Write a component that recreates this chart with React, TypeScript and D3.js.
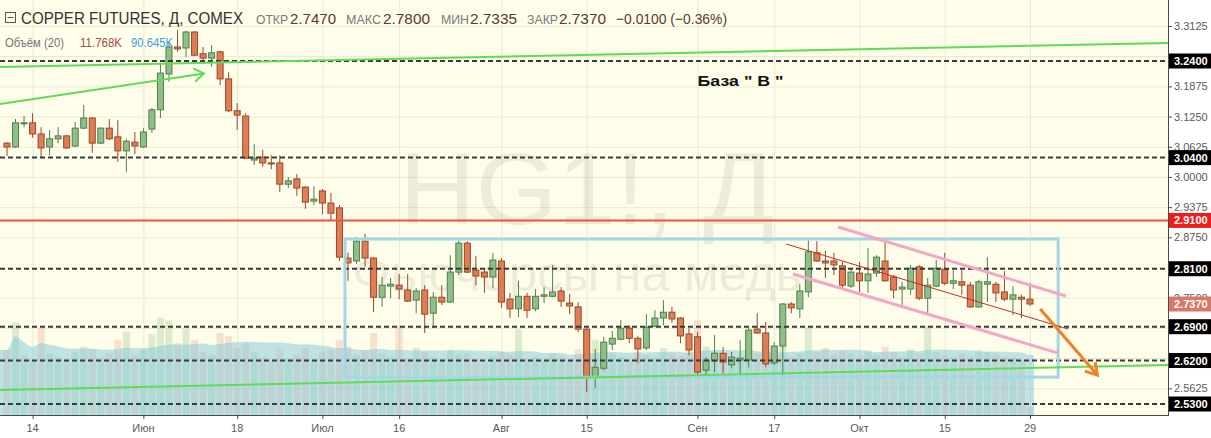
import React from "react";
import * as d3 from "d3";

const W = 1211;
const H = 438;
const PLOT_R = 1168;
const PLOT_B = 415;

// [open, high, low, close]
const candles: [number, number, number, number][] = [
  [3.070, 3.072, 3.043, 3.062], [3.062, 3.120, 3.060, 3.112], [3.110, 3.126, 3.103, 3.112], [3.112, 3.132, 3.081, 3.089],
  [3.089, 3.103, 3.041, 3.060], [3.062, 3.097, 3.045, 3.079], [3.079, 3.103, 3.070, 3.085], [3.085, 3.087, 3.058, 3.060],
  [3.064, 3.114, 3.062, 3.101], [3.101, 3.149, 3.099, 3.122], [3.122, 3.124, 3.050, 3.070], [3.070, 3.103, 3.068, 3.101],
  [3.101, 3.120, 3.076, 3.079], [3.083, 3.118, 3.031, 3.054], [3.054, 3.079, 3.010, 3.074], [3.072, 3.093, 3.047, 3.064],
  [3.062, 3.101, 3.060, 3.093], [3.099, 3.143, 3.091, 3.139], [3.139, 3.236, 3.122, 3.215], [3.213, 3.281, 3.197, 3.269],
  [3.269, 3.304, 3.259, 3.265], [3.267, 3.303, 3.248, 3.300], [3.300, 3.302, 3.250, 3.252], [3.255, 3.269, 3.240, 3.246],
  [3.246, 3.273, 3.228, 3.257], [3.259, 3.261, 3.190, 3.203], [3.203, 3.217, 3.134, 3.137], [3.137, 3.153, 3.097, 3.128],
  [3.126, 3.132, 3.037, 3.039], [3.035, 3.068, 3.025, 3.039], [3.041, 3.056, 3.021, 3.029], [3.029, 3.045, 3.016, 3.027],
  [3.029, 3.045, 2.969, 2.985], [2.985, 3.000, 2.977, 2.992], [2.996, 3.006, 2.961, 2.977], [2.979, 2.981, 2.934, 2.948],
  [2.950, 2.981, 2.942, 2.954], [2.971, 2.975, 2.923, 2.946], [2.946, 2.967, 2.911, 2.925], [2.936, 2.942, 2.826, 2.834],
  [2.832, 2.843, 2.785, 2.822], [2.826, 2.876, 2.820, 2.867], [2.867, 2.882, 2.814, 2.832], [2.832, 2.834, 2.720, 2.751],
  [2.751, 2.793, 2.731, 2.776], [2.774, 2.791, 2.749, 2.778], [2.776, 2.799, 2.747, 2.768], [2.766, 2.799, 2.741, 2.743],
  [2.745, 2.770, 2.718, 2.764], [2.766, 2.776, 2.677, 2.716], [2.718, 2.762, 2.687, 2.751], [2.751, 2.776, 2.735, 2.741],
  [2.741, 2.838, 2.739, 2.803], [2.803, 2.869, 2.797, 2.863], [2.863, 2.867, 2.801, 2.803], [2.807, 2.836, 2.776, 2.795],
  [2.803, 2.811, 2.760, 2.793], [2.793, 2.843, 2.770, 2.828], [2.826, 2.832, 2.729, 2.741], [2.747, 2.760, 2.708, 2.727],
  [2.727, 2.785, 2.710, 2.753], [2.753, 2.760, 2.708, 2.724], [2.727, 2.768, 2.722, 2.753], [2.753, 2.772, 2.739, 2.756],
  [2.753, 2.818, 2.751, 2.762], [2.764, 2.772, 2.731, 2.743], [2.739, 2.758, 2.716, 2.733], [2.731, 2.741, 2.679, 2.685],
  [2.685, 2.687, 2.555, 2.588], [2.586, 2.644, 2.563, 2.606], [2.604, 2.669, 2.600, 2.658], [2.654, 2.681, 2.642, 2.666],
  [2.664, 2.704, 2.662, 2.687], [2.687, 2.693, 2.656, 2.666], [2.666, 2.671, 2.615, 2.644], [2.646, 2.716, 2.642, 2.689],
  [2.691, 2.724, 2.689, 2.708], [2.708, 2.745, 2.693, 2.720], [2.720, 2.731, 2.698, 2.706], [2.708, 2.710, 2.656, 2.671],
  [2.675, 2.687, 2.631, 2.642], [2.669, 2.679, 2.586, 2.596], [2.600, 2.627, 2.592, 2.621], [2.619, 2.673, 2.596, 2.635],
  [2.635, 2.648, 2.594, 2.617], [2.611, 2.638, 2.604, 2.627], [2.621, 2.662, 2.590, 2.625], [2.621, 2.687, 2.606, 2.683],
  [2.685, 2.718, 2.675, 2.677], [2.677, 2.700, 2.606, 2.613], [2.615, 2.658, 2.611, 2.650], [2.650, 2.739, 2.590, 2.737],
  [2.737, 2.741, 2.718, 2.729], [2.727, 2.778, 2.708, 2.764], [2.762, 2.869, 2.751, 2.845], [2.843, 2.867, 2.824, 2.826],
  [2.826, 2.847, 2.791, 2.822], [2.826, 2.843, 2.797, 2.818], [2.816, 2.824, 2.770, 2.776], [2.774, 2.811, 2.770, 2.803],
  [2.801, 2.824, 2.762, 2.785], [2.785, 2.853, 2.760, 2.799], [2.801, 2.838, 2.793, 2.834], [2.826, 2.865, 2.783, 2.785],
  [2.793, 2.797, 2.749, 2.766], [2.768, 2.783, 2.735, 2.772], [2.768, 2.818, 2.756, 2.811], [2.814, 2.818, 2.745, 2.749],
  [2.749, 2.791, 2.718, 2.776], [2.774, 2.828, 2.772, 2.811], [2.809, 2.843, 2.776, 2.780], [2.780, 2.807, 2.768, 2.785],
  [2.783, 2.807, 2.756, 2.776], [2.776, 2.783, 2.729, 2.731], [2.731, 2.787, 2.729, 2.783], [2.778, 2.834, 2.741, 2.783],
  [2.778, 2.783, 2.741, 2.760], [2.762, 2.805, 2.743, 2.747], [2.747, 2.774, 2.714, 2.756], [2.751, 2.756, 2.708, 2.747],
  [2.747, 2.780, 2.7335, 2.737],
];

// volume, thousands of contracts
const volumes: number[] = [
  95, 135, 88, 80, 128, 90, 85, 78, 92, 100,
  96, 84, 90, 110, 122, 88, 95, 118, 142, 138,
  105, 126, 110, 92, 88, 120, 115, 98, 105, 92,
  85, 78, 96, 82, 88, 98, 80, 92, 96, 110,
  100, 88, 95, 120, 90, 85, 130, 82, 98, 92,
  85, 80, 95, 88, 90, 82, 78, 86, 92, 88,
  125, 82, 85, 78, 90, 86, 80, 96, 118, 110,
  102, 90, 85, 80, 92, 88, 84, 98, 90, 86,
  94, 138, 100, 92, 88, 84, 80, 96, 90, 88,
  86, 105, 85, 90, 128, 92, 98, 88, 94, 90,
  86, 95, 88, 100, 92, 85, 96, 90, 130, 92,
  88, 85, 90, 86, 95, 92, 88, 85, 84, 80,
  11.768,
];

const dateTicks = [
  { i: 3, label: "14" }, { i: 16, label: "Июн" }, { i: 27, label: "18" }, { i: 37, label: "Июл" },
  { i: 46, label: "16" }, { i: 58, label: "Авг" }, { i: 68, label: "15" }, { i: 81, label: "Сен" },
  { i: 90, label: "17" }, { i: 100, label: "Окт" }, { i: 110, label: "15" }, { i: 120, label: "29" },
];

const priceTicks = [2.5625, 2.625, 2.6875, 2.75, 2.8125, 2.875, 2.9375, 3.0, 3.0625, 3.125, 3.1875, 3.25, 3.3125];
const dashedLevels = [3.24, 3.04, 2.81, 2.69, 2.62, 2.53];
const redLevel = 2.91;
const lastPrice = 2.737;

// drawings as [barIndex, price]
const greenTopLine: [number, number][] = [[-0.82, 3.2276], [136.2, 3.2773]];
const greenArrow: [number, number][] = [[-0.82, 3.151], [23.1, 3.2141]];
const greenBottomLine: [number, number][] = [[-0.82, 2.5589], [136.2, 2.6107]];
const blueBox = { i0: 39.65, i1: 123.3, p0: 2.8715, p1: 2.5857 };
const pinkTop: [number, number][] = [[97.5, 2.8963], [124.2, 2.7535]];
const pinkBottom: [number, number][] = [[92.2, 2.799], [123.3, 2.6354]];
const redTrend: [number, number][] = [[91.4, 2.8611], [124.5, 2.6851]];
const orangeArrow: [number, number][] = [[121.2, 2.7265], [127.9, 2.5899]];
const noteLabel = { i: 81, p: 3.188, text: "База  \" В \"" };

const FONT = "'Liberation Sans', Arial, sans-serif";

function arrowHead(x1: number, y1: number, x2: number, y2: number, len: number, ang: number) {
  const a = Math.atan2(y2 - y1, x2 - x1);
  const p1 = [x2 - len * Math.cos(a - ang), y2 - len * Math.sin(a - ang)];
  const p2 = [x2 - len * Math.cos(a + ang), y2 - len * Math.sin(a + ang)];
  return `M${p1[0]},${p1[1]}L${x2},${y2}L${p2[0]},${p2[1]}`;
}

export default function App() {
  const x = d3.scaleLinear().domain([0, 120]).range([7, 1030]);
  const y = d3.scaleLinear().domain([2.53, 3.24]).range([404, 61]);
  const vy = d3.scaleLinear().domain([0, 100]).range([PLOT_B, PLOT_B - 68.4]);

  const ma = volumes.map((_, i) => {
    const s = volumes.slice(Math.max(0, i - 19), i + 1);
    return d3.mean(s) as number;
  });
  const maPts: [number, number][] = ma.map((v, i) => [x(i), vy(v)]);
  maPts.unshift([0, vy(ma[0])]);
  maPts.push([x(120) + 4, vy(ma[120])]);
  const areaGen = d3.area<[number, number]>().x((d) => d[0]).y0(PLOT_B).y1((d) => d[1]).curve(d3.curveMonotoneX);

  const seg = (pts: [number, number][]) => ({ x1: x(pts[0][0]), y1: y(pts[0][1]), x2: x(pts[1][0]), y2: y(pts[1][1]) });
  const gt = seg(greenTopLine);
  const ga = seg(greenArrow);
  const gb = seg(greenBottomLine);
  const pt = seg(pinkTop);
  const pb = seg(pinkBottom);
  const rt = seg(redTrend);
  const oa = seg(orangeArrow);

  // axis labels hidden behind the solid level badges are not drawn
  const solidBadges = [...dashedLevels, redLevel];
  const labelTicks = priceTicks.filter((p) => solidBadges.every((b) => Math.abs(y(p) - y(b)) > 8));

  const badge = (v: number, fill: string, key: string) => (
    <g key={key}>
      <rect x={1169} y={y(v) - 7.5} width={42} height={15} fill={fill} />
      <text x={1174} y={y(v) + 4} fontSize={11} fontWeight="bold" fill="#fff" fontFamily={FONT}>
        {v.toFixed(4)}
      </text>
    </g>
  );

  return (
    <svg width={W} height={H} style={{ position: "absolute", left: 0, top: 0, background: "#fff" }}>
      <defs>
        <clipPath id="plot">
          <rect x={0} y={0} width={PLOT_R} height={PLOT_B} />
        </clipPath>
      </defs>
      <rect x={0} y={0} width={PLOT_R} height={PLOT_B} fill="#fdfde9" />
      <g clipPath="url(#plot)">
        {priceTicks.map((p) => (
          <line key={"hg" + p} x1={0} x2={PLOT_R} y1={y(p) + 0.5} y2={y(p) + 0.5} stroke="#e9e9d6" />
        ))}
        {dateTicks.map((t) => (
          <line key={"vg" + t.i} x1={x(t.i) + 0.5} x2={x(t.i) + 0.5} y1={0} y2={PLOT_B} stroke="#e9e9d6" />
        ))}
        <text x={587} y={224} textAnchor="middle" fontSize={102} fill="rgba(0,0,0,0.065)" fontFamily={FONT} textLength={375} lengthAdjust="spacingAndGlyphs">
          HG1!, Д
        </text>
        <text x={352} y={291} fontSize={50} fill="rgba(0,0,0,0.065)" fontFamily={FONT} textLength={450} lengthAdjust="spacingAndGlyphs">
          Фьючерсы на медь
        </text>
        {volumes.map((v, i) => {
          const up = candles[i][3] >= candles[i][0];
          return (
            <rect key={"v" + i} x={x(i) - 3.5} y={vy(v)} width={7} height={PLOT_B - vy(v)}
              fill={up ? "rgba(120,180,110,0.24)" : "rgba(230,140,110,0.24)"} />
          );
        })}
        <path d={areaGen(maPts) as string} fill="rgba(130,200,220,0.5)" />

        {candles.map((d, i) => {
          const [o, h, l, c] = d;
          const up = c >= o;
          const fill = up ? "#8fbe88" : "#df7d57";
          const stroke = up ? "#517f4c" : "#98482a";
          const top = y(Math.max(o, c));
          const bh = Math.max(1, Math.abs(y(o) - y(c)));
          return (
            <g key={"c" + i}>
              <line x1={x(i)} x2={x(i)} y1={y(h)} y2={y(l)} stroke={stroke} strokeWidth={1} />
              <rect x={x(i) - 3} y={top} width={6} height={bh} fill={fill} stroke={stroke} strokeWidth={1} />
            </g>
          );
        })}

        {dashedLevels.map((p) => (
          <line key={"dl" + p} x1={0} x2={PLOT_R} y1={y(p)} y2={y(p)} stroke="#3a3a3a" strokeWidth={2} strokeDasharray="5,3" />
        ))}
        <line x1={0} x2={PLOT_R} y1={y(redLevel)} y2={y(redLevel)} stroke="#e8553f" strokeWidth={2} />

        <rect x={x(blueBox.i0)} y={y(blueBox.p0)} width={x(blueBox.i1) - x(blueBox.i0)} height={y(blueBox.p1) - y(blueBox.p0)}
          fill="none" stroke="#a3d6e6" strokeWidth={3} />

        <line {...gt} stroke="#5fdc55" strokeWidth={2} />
        <line {...gb} stroke="#5fdc55" strokeWidth={2} />
        <line {...ga} stroke="#5fdc55" strokeWidth={2} />
        <path d={arrowHead(ga.x1, ga.y1, ga.x2, ga.y2, 12, 0.6)} fill="none" stroke="#5fdc55" strokeWidth={2} />

        <line {...pt} stroke="#f2a7c6" strokeWidth={3} />
        <line {...pb} stroke="#f2a7c6" strokeWidth={3} />
        <line {...rt} stroke="#c62a24" strokeWidth={1} />
        <line {...oa} stroke="#f08124" strokeWidth={3} />
        <path d={arrowHead(oa.x1, oa.y1, oa.x2, oa.y2, 13, 0.55)} fill="none" stroke="#f08124" strokeWidth={3} />

        <text x={x(noteLabel.i)} y={y(noteLabel.p)} fontSize={15} fontWeight="bold" fill="#111" fontFamily={FONT}
          textLength={86} lengthAdjust="spacingAndGlyphs">
          {noteLabel.text}
        </text>
      </g>

      {/* axes */}
      <line x1={PLOT_R + 0.5} x2={PLOT_R + 0.5} y1={0} y2={PLOT_B + 1} stroke="#4a4a4a" />
      <line x1={0} x2={PLOT_R + 1} y1={PLOT_B + 0.5} y2={PLOT_B + 0.5} stroke="#4a4a4a" />
      {priceTicks.map((p) => (
        <line key={"ptk" + p} x1={PLOT_R} x2={PLOT_R + 4} y1={y(p) + 0.5} y2={y(p) + 0.5} stroke="#4a4a4a" />
      ))}
      {labelTicks.map((p) => (
        <text key={"pt" + p} x={1174} y={y(p) + 4} fontSize={11} fill="#5a5a5a" fontFamily={FONT}>
          {p.toFixed(4)}
        </text>
      ))}
      {dateTicks.map((t) => (
        <g key={"dt" + t.i}>
          <line x1={x(t.i) + 0.5} x2={x(t.i) + 0.5} y1={PLOT_B} y2={PLOT_B + 4} stroke="#4a4a4a" />
          <text x={x(t.i)} y={432} textAnchor="middle" fontSize={11} fill="#5a5a5a" fontFamily={FONT}>
            {t.label}
          </text>
        </g>
      ))}
      {dashedLevels.map((p) => badge(p, "#000", "b" + p))}
      {badge(redLevel, "#f01c1c", "bred")}
      {badge(lastPrice, "#d8786a", "blast")}

      {/* header */}
      <rect x={5.5} y={12.5} width={10} height={10} fill="none" stroke="#555" />
      <line x1={7.5} x2={13.5} y1={17.5} y2={17.5} stroke="#555" />
      <text x={21} y={24} fontSize={16} fill="#333" fontFamily={FONT} textLength={222} lengthAdjust="spacingAndGlyphs">
        COPPER FUTURES, Д, COMEX
      </text>
      {[
        { l: "ОТКР", lx: 256, lw: 32, v: "2.7470", vx: 290, vw: 46 },
        { l: "МАКС", lx: 346, lw: 35, v: "2.7800", vx: 383, vw: 47 },
        { l: "МИН", lx: 441, lw: 28, v: "2.7335", vx: 470, vw: 47 },
        { l: "ЗАКР", lx: 527, lw: 31, v: "2.7370", vx: 559, vw: 47 },
      ].map((f) => (
        <g key={f.l}>
          <text x={f.lx} y={24} fontSize={13} fill="#7a7a7a" fontFamily={FONT} textLength={f.lw} lengthAdjust="spacingAndGlyphs">{f.l}</text>
          <text x={f.vx} y={24} fontSize={15} fill="#5a3a30" fontFamily={FONT} textLength={f.vw} lengthAdjust="spacingAndGlyphs">{f.v}</text>
        </g>
      ))}
      <text x={616} y={24} fontSize={15} fill="#5a3a30" fontFamily={FONT} textLength={111} lengthAdjust="spacingAndGlyphs">
        −0.0100 (−0.36%)
      </text>
      <text x={5} y={47} fontSize={12} fill="#777" fontFamily={FONT} textLength={59} lengthAdjust="spacingAndGlyphs">Объём (20)</text>
      <text x={80} y={47} fontSize={12} fill="#a0504a" fontFamily={FONT} textLength={42} lengthAdjust="spacingAndGlyphs">11.768K</text>
      <text x={131} y={47} fontSize={12} fill="#3c9ee5" fontFamily={FONT} textLength={42} lengthAdjust="spacingAndGlyphs">90.645K</text>
    </svg>
  );
}
